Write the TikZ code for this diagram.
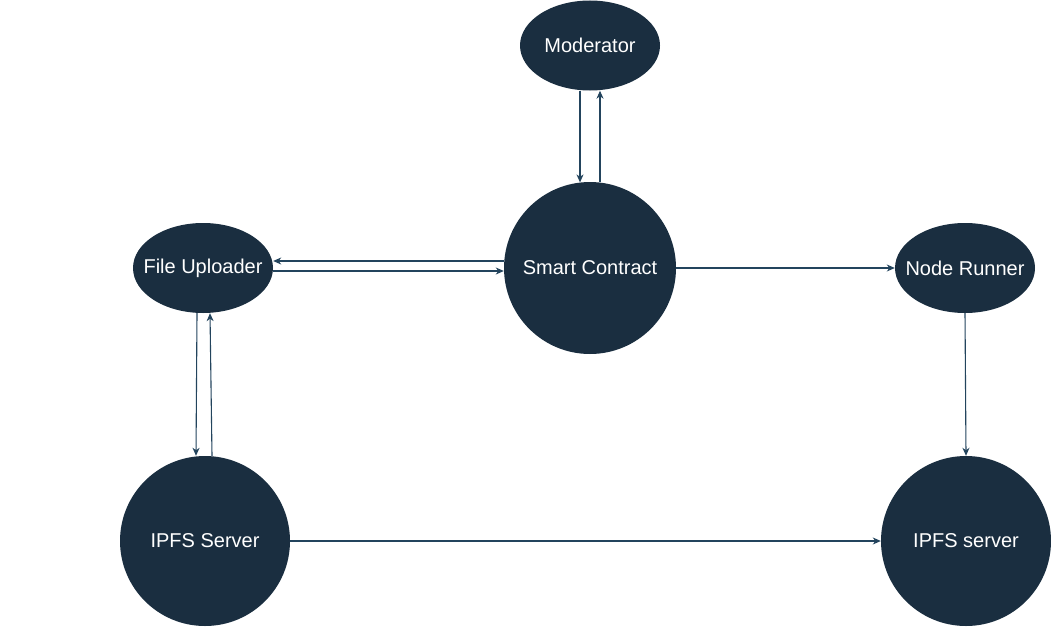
\documentclass[tikz,border=0pt]{standalone}
\usepackage{fontspec}
\setmainfont{Liberation Sans}
\usetikzlibrary{shapes.geometric,arrows.meta}
\definecolor{nodefill}{RGB}{26,46,64}
\definecolor{edgecol}{RGB}{35,68,93}
\tikzset{
  ovalnode/.style={ellipse, fill=nodefill, draw=none, minimum width=140pt, minimum height=90pt, inner sep=0pt, text=white, font=\fontsize{20}{23}\selectfont},
  roundnode/.style={circle, fill=nodefill, draw=none, minimum size=#1, inner sep=0pt, text=white, font=\fontsize{20}{23}\selectfont},
  link/.style={draw=edgecol, line width=1.1pt, -{Stealth[length=8pt,width=7pt,inset=2.5pt]}}
}
\begin{document}
\begin{tikzpicture}[x=1pt,y=-1pt]
\useasboundingbox (0,0) rectangle (1051,626);
\node[ovalnode] (mod) at (590,45.5) {\makebox[0pt]{Moderator}};
\node[roundnode=172pt] (sc) at (590,268) {Smart Contract};
\node[ovalnode] (fu) at (203,268) {\makebox[0pt]{File Uploader}};
\node[ovalnode] (nr) at (965,268) {\makebox[0pt]{Node Runner}};
\node[roundnode=170pt] (ip1) at (205,541) {IPFS Server};
\node[roundnode=170pt] (ip2) at (966,541) {IPFS server};
% Moderator <-> Smart Contract
\draw[link] ([xshift=-10pt]mod.south) -- ([xshift=-10pt,yshift=-0.6pt]sc.north);
\draw[link] ([xshift=10pt,yshift=-0.6pt]sc.north) -- ([xshift=10pt]mod.south);
% File Uploader <-> Smart Contract
\draw[link] ([yshift=7pt]sc.west) -- ([yshift=7pt]fu.east);
\draw[link] ([yshift=-3pt]fu.east) -- ([yshift=-3pt]sc.west);
% Smart Contract -> Node Runner
\draw[link] (sc.east) -- (nr.west);
% File Uploader <-> IPFS Server
\draw[link] ([xshift=-6pt]fu.south) -- ([xshift=-9pt]ip1.north);
\draw[link] ([xshift=7pt]ip1.north) -- ([xshift=7pt]fu.south);
% Node Runner -> IPFS server
\draw[link] (nr.south) -- (ip2.north);
% IPFS Server -> IPFS server
\draw[link] (ip1.east) -- (ip2.west);
\end{tikzpicture}
\end{document}
